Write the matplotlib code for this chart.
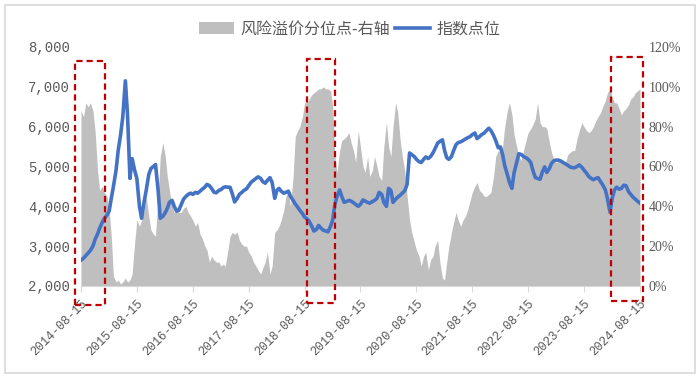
import matplotlib.pyplot as plt
import matplotlib.ticker as mticker
import matplotlib.dates as mdates
import matplotlib.transforms as mtransforms
from matplotlib.patches import Rectangle, Patch
from matplotlib.lines import Line2D
import pandas as pd

plt.rcParams['font.family'] = ['Noto Sans CJK SC', 'DejaVu Sans']

# semi-monthly points, 2014-08-15 .. 2024-08-15
dates = pd.date_range('2014-08-15', '2024-08-15', freq='SMS')

# index level (left axis)
index_vals = [
    2650, 2700, 2760, 2830, 2890, 3000, 3170, 3300, 3450, 3600,
    3700, 3780, 3880, 4200, 4500, 4900, 5400, 5800, 6240, 7150,
    6300, 4700, 5200, 4900, 4700, 4000, 3700, 4100, 4400, 4800,
    4950, 5000, 5050, 4400, 3700, 3750, 3830, 3950, 4100, 4150,
    4000, 3880, 3900, 4050, 4180, 4250, 4300, 4330, 4300, 4350,
    4330, 4380, 4430, 4480, 4550, 4520, 4450, 4350, 4340, 4400,
    4420, 4470, 4490, 4480, 4480, 4300, 4110, 4200, 4300, 4350,
    4400, 4440, 4520, 4610, 4650, 4700, 4740, 4700, 4620, 4580,
    4650, 4720, 4600, 4200, 4400, 4450, 4380, 4330, 4350, 4380,
    4250, 4150, 4060, 3980, 3900, 3820, 3730, 3680, 3620, 3500,
    3380, 3420, 3520, 3450, 3400, 3380, 3360, 3500, 3660, 4050,
    4250, 4410, 4250, 4100, 4120, 4150, 4130, 4090, 4050, 4000,
    4050, 4160, 4130, 4100, 4080, 4120, 4150, 4200, 4350, 4300,
    4100, 4000, 4450, 4400, 4100, 4180, 4230, 4280, 4330, 4400,
    4550, 5340, 5300, 5250, 5180, 5120, 5100, 5180, 5240, 5200,
    5250, 5340, 5450, 5590, 5630, 5670, 5400, 5220, 5180, 5250,
    5400, 5550, 5600, 5620, 5650, 5690, 5720, 5750, 5800, 5840,
    5700, 5750, 5800, 5840, 5900, 5960, 5900, 5780, 5650, 5470,
    5490, 5300, 5020, 4800, 4600, 4450, 4840, 5100, 5320, 5300,
    5250, 5220, 5180, 5100, 4900, 4720, 4700, 4680, 4850, 4990,
    4850, 4950, 5080, 5150, 5160, 5160, 5140, 5100, 5070, 5030,
    4990, 4970, 4970, 5000, 5040, 4980, 4910, 4830, 4750, 4700,
    4670, 4700, 4720, 4620, 4540, 4420, 4200, 3850, 4200, 4410,
    4480, 4430, 4450, 4530, 4520, 4370, 4300, 4230, 4180, 4120,
    4080,
]

# risk premium percentile in % (right axis)
pct_vals = [
    88, 85, 92, 90, 92, 88, 78, 58, 48, 50,
    47, 45, 38, 25, 5, 2, 3, 1, 2, 4,
    2, 3, 6, 22, 33, 30, 33, 38, 45, 35,
    28, 26, 25, 45, 65, 72, 66, 55, 48, 40,
    37, 38, 37, 37, 39, 40, 37, 35, 33, 30,
    32, 26, 24, 20, 18, 12, 15, 13, 12, 12,
    10, 11, 10, 18, 25, 27, 26, 27, 23, 21,
    20, 20, 17, 15, 12, 10, 8, 6, 9, 12,
    17, 6, 10, 27, 28, 30, 33, 38, 45, 48,
    40, 55, 75, 78, 80, 85, 92, 92, 94, 96,
    97, 98, 99, 99, 100, 99, 99, 98, 90, 65,
    57, 68, 73, 74, 75, 77, 72, 68, 62, 78,
    70, 60, 57, 65, 55, 58, 65, 60, 55, 53,
    70, 82, 70, 65, 80, 92, 87, 73, 65, 57,
    45, 33, 27, 22, 18, 15, 10, 15, 17, 8,
    13, 15, 20, 23, 12, 4, 3, 12, 20, 27,
    32, 37, 33, 30, 33, 35, 38, 43, 47, 50,
    52, 48, 47, 45, 45, 46, 47, 55, 65, 68,
    67, 70, 80, 88, 92, 86, 76, 70, 65, 63,
    68, 73, 77, 79, 81, 84, 92, 82, 80, 80,
    79, 72, 67, 63, 62, 63, 63, 62, 62, 66,
    67, 68, 68, 74, 78, 82, 80, 78, 77, 78,
    80, 83, 85, 87, 90, 93, 97, 99, 95, 92,
    92, 89, 86, 88, 89, 91, 94, 95, 97, 98,
    99,
]

tick_dates = [pd.Timestamp(f'{y}-08-15') for y in range(2014, 2025)]
left_ticks = [2000, 3000, 4000, 5000, 6000, 7000, 8000]
right_ticks = [0, 20, 40, 60, 80, 100, 120]

# highlighted periods (red dashed boxes)
boxes = [
    ('2014-07-05', '2015-01-20'),
    ('2018-08-30', '2019-03-01'),
    ('2024-02-08', '2024-09-03'),
]
box_y = [(-0.080, 0.941), (-0.071, 0.950), (-0.063, 0.958)]

GREY = '#BFBFBF'
BLUE = '#4472C4'
TXT = '#595959'

fig = plt.figure(figsize=(7, 3.78), dpi=100)
ax = fig.add_axes([0.1157, 0.2434, 0.7986, 0.6323])
ax2 = ax.twinx()

ax2.fill_between(dates, pct_vals, 0, color=GREY, lw=0)
ax.plot(dates, index_vals, color=BLUE, lw=2.6, solid_joinstyle='round')
ax.set_zorder(ax2.get_zorder() + 1)
ax.patch.set_visible(False)

ax.set_xlim(dates[0], dates[-1])
ax.set_ylim(2000, 8000)
ax2.set_ylim(0, 120)

for a in (ax, ax2):
    for s in ('top', 'left', 'right', 'bottom'):
        a.spines[s].set_visible(False)
ax.spines['bottom'].set_visible(True)
ax.spines['bottom'].set_color('#D9D9D9')

ax.set_yticks(left_ticks)
ax.yaxis.set_major_formatter(mticker.FuncFormatter(lambda v, p: f'{int(v):,}'))
ax.tick_params(axis='y', length=0, pad=8, labelcolor=TXT)
for lab in ax.get_yticklabels():
    lab.set_family('Liberation Mono')
    lab.set_fontsize(10)

ax2.set_yticks(right_ticks)
ax2.yaxis.set_major_formatter(mticker.FuncFormatter(lambda v, p: f'{int(v)}%'))
ax2.tick_params(axis='y', length=0, pad=6, labelcolor=TXT)
for lab in ax2.get_yticklabels():
    lab.set_family('Liberation Serif')
    lab.set_fontsize(10)

ax.set_xticks(tick_dates)
ax.set_xticklabels([d.strftime('%Y-%m-%d') for d in tick_dates],
                   rotation=45, ha='right', rotation_mode='anchor')
ax.tick_params(axis='x', length=4, color='#D9D9D9', pad=4, labelcolor=TXT)
for lab in ax.get_xticklabels():
    lab.set_family('Liberation Mono')
    lab.set_fontsize(8.8)

# red dashed boxes
trans = mtransforms.blended_transform_factory(ax.transData, ax.transAxes)
for (d0, d1), (y0, y1) in zip(boxes, box_y):
    x0 = mdates.date2num(pd.Timestamp(d0))
    x1 = mdates.date2num(pd.Timestamp(d1))
    ax.add_patch(Rectangle((x0, y0), x1 - x0, y1 - y0, transform=trans,
                           fill=False, ec='#C00000', lw=1.6,
                           ls=(0, (2.8, 1.8)), clip_on=False, zorder=6))

handles = [Patch(facecolor=GREY, edgecolor='none'),
           Line2D([], [], color=BLUE, lw=2.6)]
fig.legend(handles, ['风险溢价分位点-右轴', '指数点位'],
           loc='center', bbox_to_anchor=(0.5, 1 - 29 / 378), ncol=2,
           frameon=False, fontsize=11.5, handlelength=2.2, handletextpad=0.4,
           columnspacing=0.3, labelcolor=TXT)

fig.patches.append(Rectangle((0.0071, 0.0132), 0.9857, 0.9735,
                             transform=fig.transFigure, fill=False,
                             ec='#D9D9D9', lw=1.2))

fig.savefig('out.png', dpi=100)
